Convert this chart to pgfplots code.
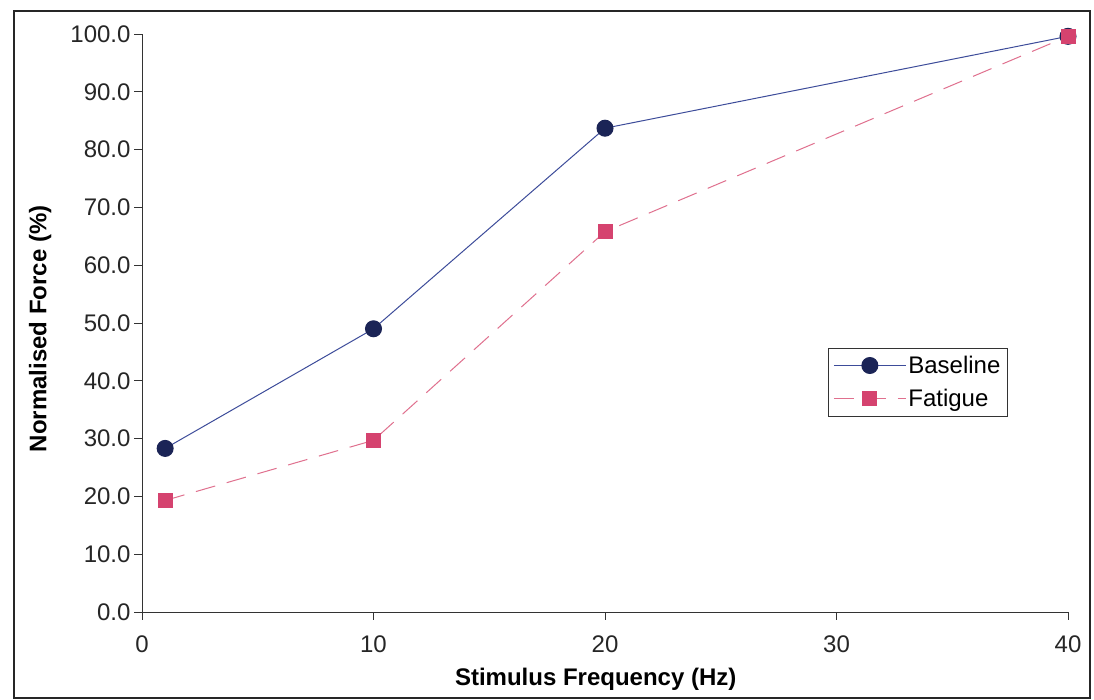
\documentclass[border=0pt]{standalone}
\usepackage{fontspec}
\setmainfont{Liberation Sans}
\usepackage{pgfplots}
\pgfplotsset{compat=1.18}
\definecolor{navy}{HTML}{1B2456}
\definecolor{bline}{HTML}{3D4C9A}
\definecolor{pinkm}{HTML}{D5436F}
\definecolor{pinkl}{HTML}{E0708E}
\begin{document}
\begin{tikzpicture}[x=1pt,y=1pt]
\useasboundingbox (0,0) rectangle (1094,700);
\fill[white] (0,0) rectangle (1094,700);
\draw[line width=1.6pt, black!85] (14,2) rectangle (1090,689);
\begin{axis}[at={(142pt,88pt)}, anchor=south west, width=926pt, height=578pt, scale only axis,
 xmin=0, xmax=40, ymin=0, ymax=100, clip=false,
 axis x line=bottom, axis y line=left,
 axis line style={-, line width=0.8pt, black!80},
 xtick={0,10,20,30,40}, ytick={0,10,...,100},
 tick align=outside, major tick length=8pt, tick style={black!80, line width=0.8pt},
 yticklabel style={/pgf/number format/.cd, fixed, fixed zerofill, precision=1, assume math mode=true},
 xticklabel style={/pgf/number format/assume math mode=true, yshift=-12pt},
 ticklabel style={font=\fontsize{24}{28}\selectfont, color=black!85},
 xlabel={Stimulus Frequency (Hz)}, ylabel={Normalised Force (\%)},
 label style={font=\fontsize{24}{28}\selectfont\bfseries},
 xlabel style={at={(axis description cs:0.49,-0.117)}, anchor=center},
 ylabel style={at={(axis description cs:-0.11,0.49)}, anchor=center},
 legend style={at={(axis description cs:0.741,0.457)}, anchor=north west, draw=black!80,
   font=\fontsize{24}{28}\selectfont, inner xsep=5pt, inner ysep=6pt, row sep=10pt, fill=white},
 legend cell align=left,
 legend image code/.code={\draw[mark repeat=2,mark phase=2] plot coordinates {(0pt,0pt) (36pt,0pt) (72pt,0pt)};},
]
\addplot[color=bline, line width=1pt, mark=*, mark size=8pt, mark options={fill=navy, draw=navy, solid}]
  coordinates {(1,28.3) (10,49.0) (20,83.7) (40,99.6)};
\addlegendentry{Baseline}
\addplot[color=pinkl, line width=1pt, dash pattern=on 20pt off 12pt, mark=square*, mark size=7pt, mark options={fill=pinkm, draw=pinkm, solid}]
  coordinates {(1,19.3) (10,29.7) (20,65.8) (40,99.6)};
\addlegendentry{Fatigue}
\end{axis}
\end{tikzpicture}
\end{document}
